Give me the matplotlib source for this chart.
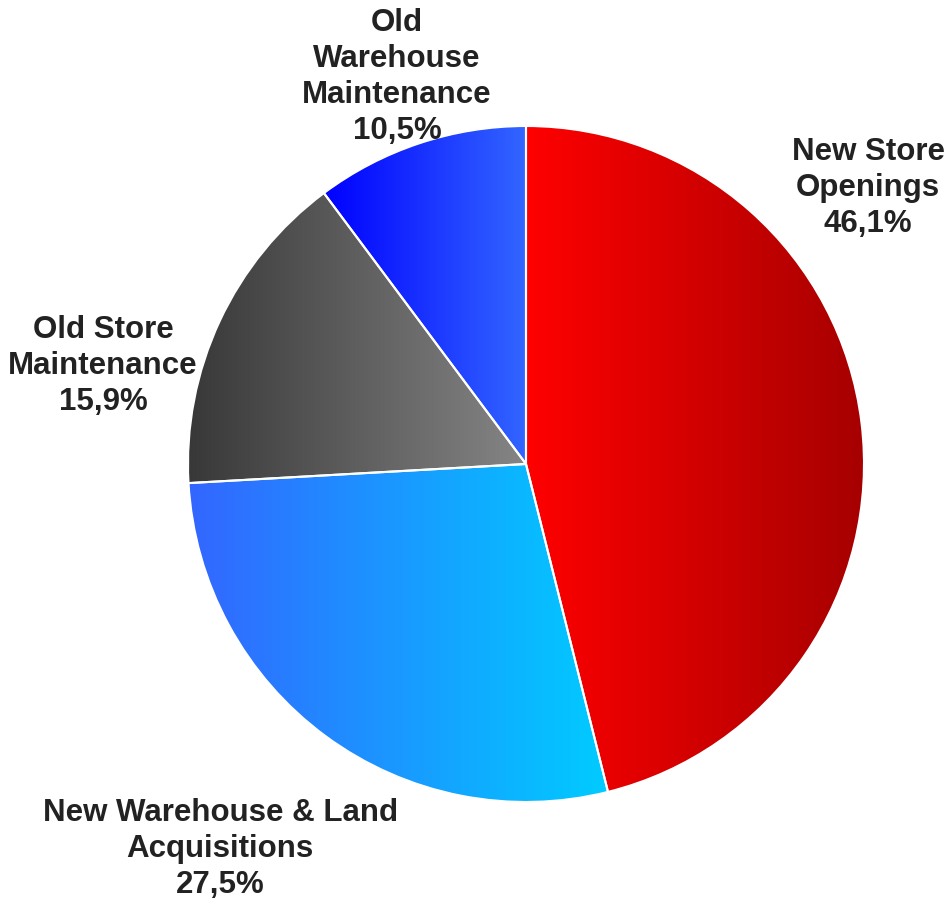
import matplotlib
matplotlib.use('Agg')
import matplotlib.pyplot as plt
import numpy as np
from matplotlib.colors import LinearSegmentedColormap

plt.rcParams['font.family'] = ['Liberation Sans', 'DejaVu Sans']

# Data (clockwise from 12 o'clock)
categories = ['New Store\nOpenings', 'New Warehouse & Land\nAcquisitions',
              'Old Store\nMaintenance', 'Old\nWarehouse\nMaintenance']
# slice sizes as drawn in the picture
slice_sizes = [46.1, 28.0, 15.7, 10.2]
# percentages as printed on the labels
pct_labels = ['46,1%', '27,5%', '15,9%', '10,5%']

# horizontal gradient (left colour, right colour) for each slice
gradients = [('#ff0000', '#a60000'),
             ('#3366ff', '#00ccff'),
             ('#383838', '#858585'),
             ('#0000ff', '#3366ff')]

# label centres in pie units (radius = 1)
label_pos = [(1.012, 0.817), (-0.905, -1.139), (-1.251, 0.290), (-0.382, 1.145)]

fig = plt.figure(figsize=(9.5, 9.05), dpi=100)
ax = fig.add_axes([0, 0, 1, 1])

wedges, _ = ax.pie(slice_sizes, startangle=90, counterclock=False, radius=1,
                   wedgeprops=dict(edgecolor='white', linewidth=1.5))

grad = np.linspace(0, 1, 256).reshape(1, -1)
for w, (c0, c1) in zip(wedges, gradients):
    bb = w.get_path().get_extents()
    cmap = LinearSegmentedColormap.from_list('g', [c0, c1])
    im = ax.imshow(grad, cmap=cmap, extent=[bb.x0, bb.x1, bb.y0, bb.y1],
                   aspect='auto', zorder=1, interpolation='bilinear')
    im.set_clip_path(w)
    w.set_facecolor('none')
    w.set_zorder(2)

for cat, pct, (x, y) in zip(categories, pct_labels, label_pos):
    ax.text(x, y, cat + '\n' + pct, ha='center', va='center', fontsize=22.5,
            fontweight='bold', color='#222222', linespacing=1.26, zorder=3)

# pie centre at (526, 464) px, radius 338 px
r = 338.0
ax.set_xlim(-526 / r, (950 - 526) / r)
ax.set_ylim(-(905 - 464) / r, 464 / r)
ax.axis('off')

fig.savefig('out.png', dpi=100)
